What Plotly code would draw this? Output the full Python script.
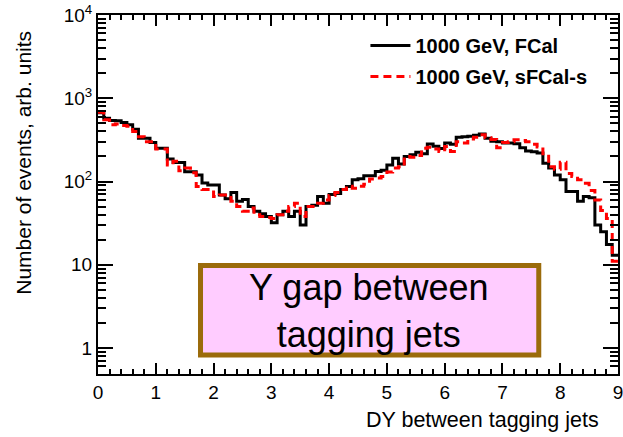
import numpy as np
import plotly.graph_objects as go

# ---- data (bin width 0.1 in DY, 90 bins from 0 to 9) ----
bin_lo = 0.0
bin_width = 0.1
fcal = [670, 575, 540, 537, 513, 480, 425, 330, 330, 295, 251, 251, 186, 169, 169, 131, 131, 120, 96, 91, 91, 69,
        62, 74, 58, 61, 50, 44, 41, 38, 32, 40, 44, 38, 44, 30, 50, 52, 66, 55, 70, 72, 80, 87,
        105, 108, 117, 117, 132, 137, 158, 190, 162, 200, 210, 225, 215, 283, 265, 250, 290, 280, 340, 345, 350, 360,
        373, 330, 305, 300, 290, 290, 285, 255, 232, 228, 220, 166, 145, 120, 105, 76, 76, 58, 66, 64, 30, 25, 17.5, 13]
sfcal = [680, 550, 480, 490, 470, 460, 400, 345, 300, 300, 245, 245, 158, 175, 135, 145, 127, 87, 80, 80, 66, 69,
         69, 58, 50, 44, 48, 40, 38, 37, 36, 40, 44, 50, 55, 38, 50, 50, 55, 60, 68, 74, 80, 88,
         83, 88, 93, 107, 110, 115, 130, 145, 150, 200, 195, 205, 251, 258, 245, 229, 263, 229, 300, 290, 325, 340,
         365, 335, 320, 255, 295, 300, 318, 310, 300, 280, 260, 215, 150, 140, 170, 125, 115, 105, 95, 78, 60, 45, 36, 11]
names = ["1000 GeV, FCal", "1000 GeV, sFCal-s"]
x_ticks = [0, 1, 2, 3, 4, 5, 6, 7, 8, 9]
y_ticks = [1, 10, 100, 1000, 10000]
y_ticktext = ["1", "10", "10<sup>2</sup>", "10<sup>3</sup>", "10<sup>4</sup>"]
x_title = "DY between tagging jets"
y_title = "Number of events, arb. units"
box_text = "Y gap between<br>tagging jets"

FONT = "Liberation Sans, Arial, Helvetica, sans-serif"


def step_xy(vals):
    n = len(vals)
    edges = bin_lo + bin_width * np.arange(n + 1)
    y = list(vals) + [vals[-1]]
    return edges, y


fig = go.Figure()
ex, ey = step_xy(fcal)
fig.add_trace(go.Scatter(x=ex, y=ey, mode="lines", line_shape="hv",
                         line=dict(color="black", width=3), name=names[0],
                         legendgroup="a"))
ex, ey = step_xy(sfcal)
fig.add_trace(go.Scatter(x=ex, y=ey, mode="lines", line_shape="hv",
                         line=dict(color="#ff0000", width=3, dash="8px,5px"), name=names[1],
                         legendgroup="b"))

# minor ticks for log axis
minor_y = []
for dec in [0.1, 1, 10, 100, 1000]:
    for m in range(2, 10):
        v = m * dec
        if 0.48 < v < 10000:
            minor_y.append(v)

W, H = 623, 437
L, R, T, B = 98, 0, 15, 63
pw, ph = W - L - R, H - T - B


def px2paper_x(px):
    return (px - L) / pw


def py2paper_y(py):
    return (H - B - py) / ph


fig.update_layout(
    width=W, height=H,
    margin=dict(l=L, r=R, t=T, b=B, pad=0),
    paper_bgcolor="white", plot_bgcolor="white",
    font=dict(family=FONT, color="black", size=19),
    showlegend=True,
    legend=dict(x=px2paper_x(368), y=py2paper_y(26), xanchor="left", yanchor="top",
                bgcolor="rgba(0,0,0,0)", font=dict(family=FONT, size=20, color="black", weight="bold"),
                traceorder="grouped", tracegroupgap=2, itemwidth=40),
    xaxis=dict(range=[0, 9], showgrid=False, zeroline=False,
               showline=True, linecolor="black", linewidth=2, mirror="ticks",
               ticks="inside", ticklen=11, tickwidth=1.5, tickcolor="black",
               tickvals=x_ticks, ticktext=[str(v) for v in x_ticks],
               ticklabeloverflow="allow",
               tickfont=dict(size=19, family=FONT),
               minor=dict(dtick=0.2, ticks="inside", ticklen=5, tickwidth=1.5, tickcolor="black", showgrid=False)),
    yaxis=dict(type="log", range=[-0.312, 4.0], showgrid=False, zeroline=False,
               showline=True, linecolor="black", linewidth=2, mirror="ticks",
               ticks="inside", ticklen=15, tickwidth=1.5, tickcolor="black",
               tickvals=y_ticks, ticktext=y_ticktext,
               tickfont=dict(size=19, family=FONT),
               minor=dict(tickvals=minor_y, ticks="inside", ticklen=8, tickwidth=1.5, tickcolor="black", showgrid=False)),
)

# axis titles (ROOT style: aligned to the axis end)
fig.add_annotation(text=x_title, xref="paper", yref="paper",
                   x=px2paper_x(606), y=py2paper_y(420), xanchor="right", yanchor="middle",
                   showarrow=False, font=dict(size=21.5, family=FONT, color="black"))
fig.add_annotation(text=y_title, xref="paper", yref="paper",
                   x=px2paper_x(22), y=py2paper_y(29), xanchor="center", yanchor="top",
                   textangle=-90, showarrow=False, font=dict(size=21, family=FONT, color="black"))

# pink label box
fig.add_shape(type="rect", xref="paper", yref="paper",
              x0=px2paper_x(201.5), x1=px2paper_x(543),
              y0=py2paper_y(355), y1=py2paper_y(265.5),
              fillcolor="#ffccff", line=dict(color="#9b6b0b", width=5), layer="above")
fig.add_annotation(text=box_text, xref="paper", yref="paper",
                   x=px2paper_x(372), y=py2paper_y(311), xanchor="center", yanchor="middle",
                   showarrow=False, font=dict(size=36, family=FONT, color="black"))

fig.write_html("out.html")
